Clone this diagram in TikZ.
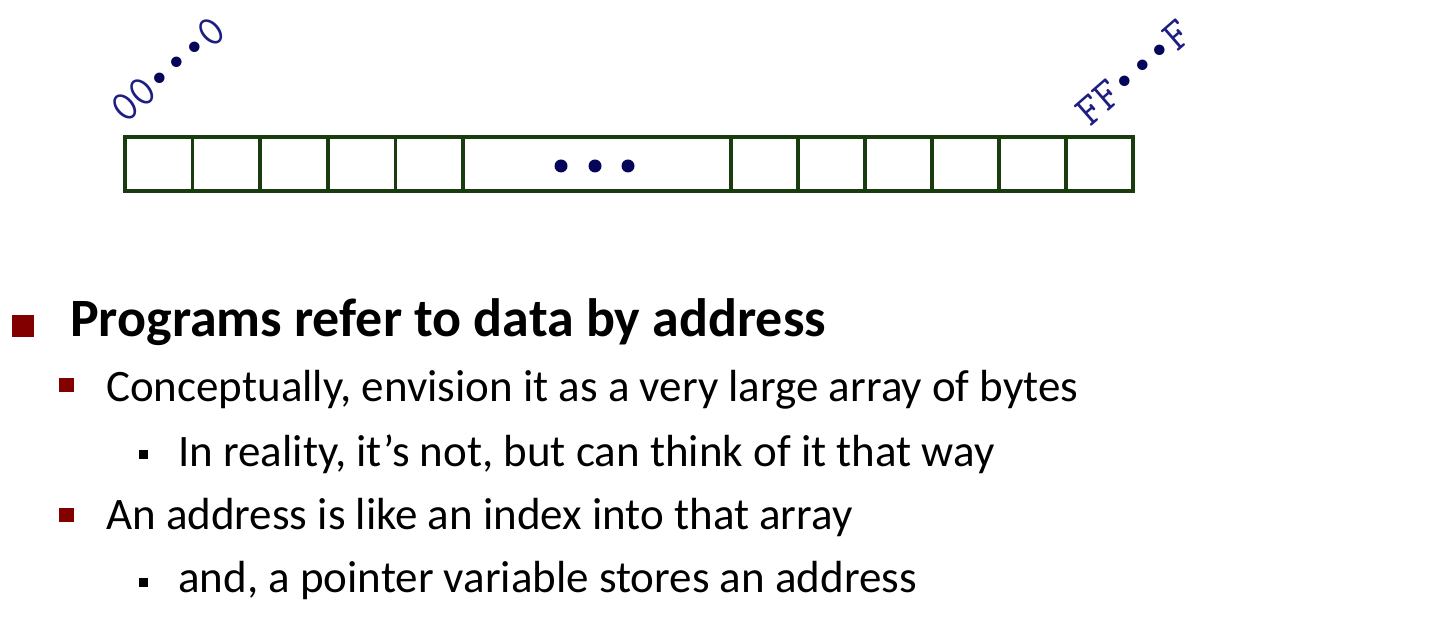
\documentclass[tikz,border=0pt]{standalone}
\usepackage{fontspec}
\setmainfont{Carlito}
\newfontfamily\dotfont{Liberation Mono}
\usepackage{tikz}
\definecolor{cellgreen}{RGB}{25,60,15}
\definecolor{addrblue}{RGB}{30,30,130}
\definecolor{dotblue}{RGB}{5,5,90}
\definecolor{bulletred}{RGB}{130,0,0}
\newcommand{\addrdots}{{\dotfont\fontsize{38.5}{38.5}\selectfont\color{dotblue}•••}}

\begin{document}
\begin{tikzpicture}[x=1pt,y=1pt,
    cell/.style={draw=cellgreen,line width=3.5pt},
    addr/.style={color=addrblue,inner sep=0pt,anchor=base,rotate=41,font=\ttfamily\fontsize{44}{44}\selectfont},
    item/.style={anchor=base west,inner sep=0pt,font=\fontsize{45}{45}\selectfont}]
    \useasboundingbox (0,0) rectangle (1440,620);

    % memory as a row of bytes
    \foreach \x in {125,192.6,260.2,327.8,395.4}
        \draw[cell] (\x,429) rectangle ++(67.6,54);
    \draw[cell] (463,429) rectangle (731,483);
    \foreach \x in {731,798,865,932,999,1066}
        \draw[cell] (\x,429) rectangle ++(67,54);
    \fill[dotblue] (561,454) circle (6.5);
    \fill[dotblue] (595,454) circle (6.5);
    \fill[dotblue] (628,454) circle (6.5);

    \node[addr] (lo) at (176.9,540.2) {00\addrdots0};
    \node[addr] (hi) at (1142.4,537.2) {FF\addrdots F};

    % bullet list
    \fill[bulletred] (12,283) rectangle (34,305);
    \node[item,font=\bfseries\fontsize{54}{54}\selectfont] (refer) at (70,283) {Programs refer to data by address};

    \fill[bulletred] (59,228) rectangle (74,242);
    \node[item] (bytes) at (106,218) {Conceptually, envision it as a very large array of bytes};

    \fill (139,161) rectangle (148,170);
    \node[item] (reality) at (178,153) {In reality, it’s not, but can think of it that way};

    \fill[bulletred] (59,98) rectangle (74,112);
    \node[item] (index) at (106,90) {An address is like an index into that array};

    \fill (139,33) rectangle (148,42);
    \node[item] (pointer) at (178,27) {and, a pointer variable stores an address};
\end{tikzpicture}
\end{document}
